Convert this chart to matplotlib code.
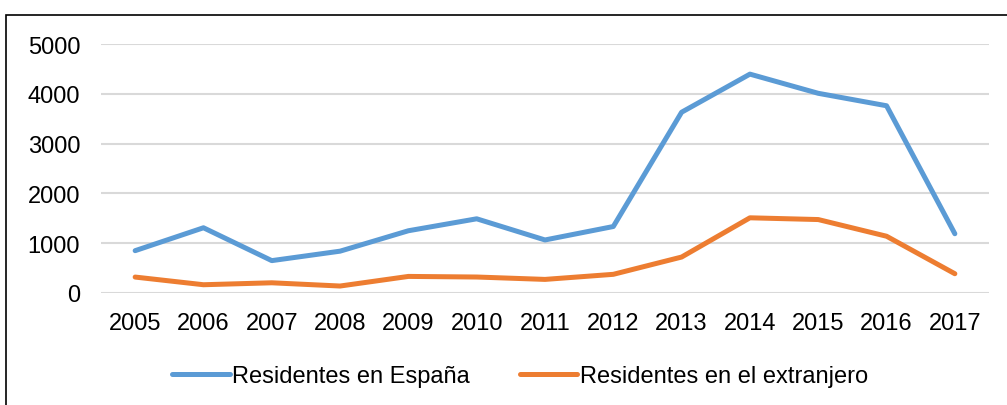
import matplotlib
matplotlib.use("Agg")
import matplotlib.pyplot as plt
from matplotlib.patches import Rectangle

years = ["2005", "2006", "2007", "2008", "2009", "2010", "2011",
         "2012", "2013", "2014", "2015", "2016", "2017"]
residentes_espana = [850, 1310, 650, 840, 1250, 1490, 1065, 1335, 3630, 4395, 4010, 3760, 1190]
residentes_extranjero = [320, 166, 205, 140, 333, 321, 273, 375, 722, 1510, 1475, 1140, 387]

plt.rcParams["font.family"] = ["Liberation Sans", "DejaVu Sans"]

fig = plt.figure(figsize=(10.07, 4.06), dpi=100)
ax = fig.add_axes([101 / 1007, 112 / 406, 888 / 1007, 249 / 406])

x = range(len(years))
ax.plot(x, residentes_espana, color="#5B9BD5", lw=3.6, label="Residentes en España",
        solid_joinstyle="round", solid_capstyle="round")
ax.plot(x, residentes_extranjero, color="#ED7D31", lw=3.6, label="Residentes en el extranjero",
        solid_joinstyle="round", solid_capstyle="round")

ax.set_xlim(-0.5, len(years) - 0.5)
ax.set_ylim(0, 5000)
ax.set_yticks([0, 1000, 2000, 3000, 4000, 5000])
ax.set_xticks(list(x))
ax.set_xticklabels(years)
ax.tick_params(length=0, labelsize=17, colors="black")
ax.tick_params(axis="y", pad=15)
ax.tick_params(axis="x", pad=14)
ax.grid(axis="y", color="#D9D9D9", lw=1.5)
ax.set_axisbelow(True)
for s in ax.spines.values():
    s.set_visible(False)

fig.legend(loc="center", bbox_to_anchor=(520 / 1007, 29 / 406), ncol=2, frameon=False,
           fontsize=17, handlelength=2.45, handletextpad=0.1, columnspacing=2.1)

fig.patches.append(Rectangle((6 / 1007, -0.1), 1.1, (406 - 16) / 406 + 0.1,
                             transform=fig.transFigure, fill=False, ec="black", lw=1.2))

fig.savefig("out.png", dpi=100)
